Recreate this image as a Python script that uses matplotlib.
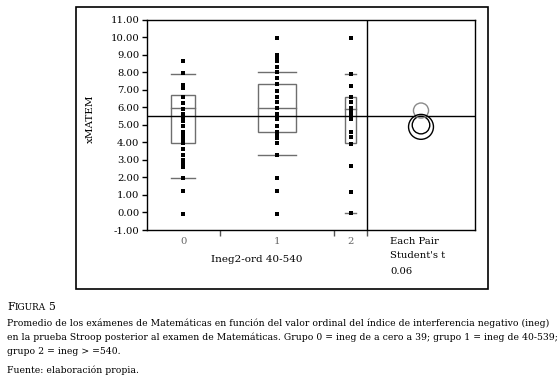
import numpy as np
import matplotlib
matplotlib.use("Agg")
import matplotlib.pyplot as plt
from matplotlib.patches import Rectangle, Ellipse

# ---------------- data ----------------
groups = ["0", "1", "2"]
group_n = [38, 60, 17]

g0_values = [8.63, 7.96, 7.25, 7.12, 6.6, 6.25, 5.89, 5.61, 5.36, 5.2, 4.92, 4.6,
             4.45, 4.3, 4.12, 3.94, 3.6, 3.27, 3.0, 2.8, 2.6, 1.94, 1.24, -0.1]
g1_values = [9.96, 9.0, 8.85, 8.63, 8.3, 7.98, 7.65, 7.3, 6.95, 6.6, 6.3, 5.93,
             5.61, 5.3, 4.95, 4.6, 4.45, 4.25, 3.94, 3.25, 1.94, 1.22, -0.08]
g2_values = [9.96, 7.92, 7.22, 6.6, 6.27, 5.93, 5.78, 5.6, 5.3, 4.6, 4.32, 3.88,
             2.65, 1.18, -0.02]
group_values = [g0_values, g1_values, g2_values]

q10 = [1.94, 3.25, -0.02]
q25 = [3.94, 4.56, 3.94]
q50 = [5.93, 5.93, 5.90]
q75 = [6.67, 7.32, 6.60]
q90 = [7.92, 7.98, 7.92]

grand_mean = 5.48

circle_means = [4.98, 5.81, 4.88]
circle_radii = [0.50, 0.43, 0.71]
circle_colors = ["black", "#8a8a8a", "black"]

y_ticks = [-1, 0, 1, 2, 3, 4, 5, 6, 7, 8, 9, 10, 11]

x_title = "Ineg2-ord 40-540"
y_title = "xMATEM"
test_lines = ["Each Pair", "Student's t", "0.06"]

caption_lines = [
    "Promedio de los exámenes de Matemáticas en función del valor ordinal del índice de interferencia negativo (ineg)",
    "en la prueba Stroop posterior al examen de Matemáticas. Grupo 0 = ineg de a cero a 39; grupo 1 = ineg de 40-539;",
    "grupo 2 = ineg > =540.",
]
source_line = "Fuente: elaboración propia."

# ---------------- layout ----------------
W, H = 560, 380
FONT = "DejaVu Serif"
plt.rcParams["font.family"] = [FONT, "DejaVu Sans"]


def fx(x):
    return x / W


def fy(y):
    return 1 - y / H


fig = plt.figure(figsize=(W / 100, H / 100), dpi=100)
fig.patch.set_facecolor("white")

# outer frame
fig.patches.append(Rectangle((fx(76), fy(289)), fx(488) - fx(76), fy(7) - fy(289),
                             transform=fig.transFigure, fill=False, ec="black", lw=1.2))

ax = fig.add_axes([fx(147), fy(230), fx(475) - fx(147), fy(19.5) - fy(230)])

bounds = np.concatenate([[0], np.cumsum(group_n)])
centers = (bounds[:-1] + bounds[1:]) / 2
widths = np.diff(bounds)
total = bounds[-1]
compare_w = total * 108 / 220

ax.set_xlim(0, total + compare_w)
ax.set_ylim(-1, 11)

box_col = "#6e6e6e"
for c, w, vals, a, b, m, d, e in zip(centers, widths, group_values, q10, q25, q50, q75, q90):
    half = w / 6
    ax.add_patch(Rectangle((c - half, b), 2 * half, d - b, fill=False, ec=box_col, lw=1.0, zorder=2))
    for v in (a, m, e):
        ax.plot([c - half, c + half], [v, v], color=box_col, lw=1.0, zorder=2)
    ax.plot([c] * len(vals), vals, "s", color="black", ms=2.9, mew=0, zorder=3)

ax.axhline(grand_mean, color="black", lw=1.0, zorder=4)
ax.axvline(total, color="black", lw=1.0, zorder=4)

# comparison circles (drawn round in pixel space)
p0 = ax.transData.transform((0, 0))
p1 = ax.transData.transform((1, 1))
ppx, ppy = p1[0] - p0[0], p1[1] - p0[1]
cx = total + compare_w / 2
for m, r, col in zip(circle_means, circle_radii, circle_colors):
    ax.add_patch(Ellipse((cx, m), 2 * r * ppy / ppx, 2 * r, fill=False, ec=col, lw=1.0, zorder=5))

ax.set_yticks(y_ticks)
ax.set_yticklabels([f"{t:.2f}" for t in y_ticks])
ax.set_xticks(bounds[1:])
ax.set_xticklabels([])
ax.tick_params(axis="y", direction="out", length=3.5, width=1, labelsize=7.2, pad=2)
ax.tick_params(axis="x", direction="out", length=4, width=1, colors="#555555")
for s in ax.spines.values():
    s.set_linewidth(1.0)
    s.set_color("black")

ax.set_ylabel(y_title, fontsize=7.5)
ax.yaxis.set_label_coords((95 - 147) / 328, 0.527)

for c, g in zip(centers, groups):
    xp = ax.transData.transform((c, 0))[0] / W
    fig.text(xp, fy(241), g, ha="center", va="center", fontsize=7.2, color="#666666")

fig.text(fx(257), fy(259), x_title, ha="center", va="center", fontsize=7.5)
for i, t in enumerate(test_lines):
    fig.text(fx(390), fy(241 + 15 * i), t, ha="left", va="center", fontsize=7.2)

# caption: fit the longest line to the width seen in the reference (7 -> 553 px)
probe = fig.text(0, 0, caption_lines[1], fontsize=10)
fig.canvas.draw()
pw = probe.get_window_extent().width
probe.remove()
cap_fs = 10 * 546 / pw

renderer = fig.canvas.get_renderer()
t_f = fig.text(fx(7), fy(310), "F", ha="left", va="baseline", fontsize=cap_fs + 1.2)
bb = t_f.get_window_extent(renderer)
t_ig = fig.text(bb.x1 / W, fy(310), "IGURA", ha="left", va="baseline", fontsize=cap_fs - 0.3)
bb2 = t_ig.get_window_extent(renderer)
fig.text(bb2.x1 / W + fx(2.5), fy(310), "5", ha="left", va="baseline", fontsize=cap_fs + 1.2)

for i, line in enumerate(caption_lines):
    fig.text(fx(7), fy(323 + 14.5 * i), line, ha="left", va="center", fontsize=cap_fs)
fig.text(fx(7), fy(370), source_line, ha="left", va="center", fontsize=cap_fs)

fig.savefig("out.png", dpi=100, facecolor="white")
